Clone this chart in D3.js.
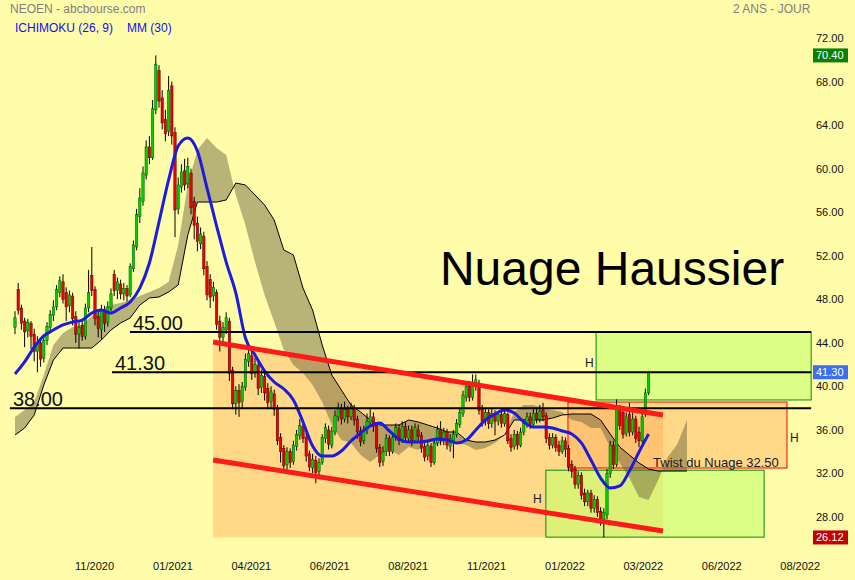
<!DOCTYPE html>
<html><head><meta charset="utf-8">
<script src="https://cdn.jsdelivr.net/npm/d3@7"></script>
<style>html,body{margin:0;padding:0;background:#fffcaa}svg{display:block}</style>
</head><body>
<svg id="c" width="855" height="580"></svg>
<script>
// ---------- DATA ----------
const opens=[45.4,48.9,47.2,46.0,45.1,45.8,44.8,43.2,44.0,42.6,44.2,45.4,46.5,47.3,48.6,49.6,48.6,47.4,48.3,46.4,44.8,45.6,44.6,47.2,50.2,48.9,46.4,45.2,47.0,45.9,47.2,50.3,48.8,49.4,48.5,49.0,48.4,50.8,52.8,55.6,57.0,59.4,62.0,61.0,65.4,69.0,66.5,64.5,63.4,67.6,63.3,56.3,58.3,59.8,58.6,59.6,57.0,55.0,53.1,53.8,51.0,49.8,48.3,48.6,46.0,44.5,45.2,46.0,41.5,38.4,39.6,38.6,39.9,42.3,42.8,41.2,41.9,39.9,40.9,39.8,38.6,39.3,38.0,35.3,34.3,32.8,34.0,33.1,34.5,35.5,36.3,35.3,33.8,32.5,33.2,32.2,33.0,35.2,36.0,34.6,35.8,37.2,38.0,37.0,37.9,37.2,38.0,37.0,35.9,35.0,36.0,36.7,37.2,36.4,34.4,33.1,34.0,35.2,34.0,35.3,36.1,35.0,36.3,35.2,36.0,35.0,36.0,35.5,34.5,33.6,34.5,33.0,34.8,36.0,35.0,35.8,34.5,35.0,35.6,36.5,37.5,39.0,40.0,39.0,40.0,40.3,38.0,36.8,37.6,36.6,37.5,36.8,37.4,36.6,37.4,35.2,34.5,35.6,34.6,35.8,36.6,37.2,36.5,37.5,37.0,37.8,37.3,35.3,34.6,35.3,34.6,34.0,35.0,34.3,32.8,32.4,31.0,31.8,30.2,29.4,30.2,28.8,29.6,28.5,27.6,28.2,32.0,34.6,32.8,38.0,37.6,35.7,37.4,35.8,37.0,35.8,35.0,37.4,39.4];
const highs=[46.9,49.5,47.5,46.3,46.2,46.0,45.3,44.6,44.4,44.8,45.9,47.0,47.9,49.3,50.1,50.3,49.1,48.8,48.6,46.9,45.9,46.0,47.6,50.7,52.8,49.2,47.0,47.5,47.4,47.8,49.0,50.7,50.0,49.8,49.5,49.3,51.3,53.4,56.3,58.2,60.2,62.6,63.0,66.3,70.4,69.5,67.2,65.4,68.5,68.0,63.8,59.2,60.4,60.9,61.0,60.0,57.4,55.6,54.6,54.2,51.5,50.3,49.6,48.9,46.5,45.9,46.8,46.3,41.8,40.0,40.2,40.4,43.0,43.6,43.2,42.6,42.3,41.5,41.3,40.3,40.0,39.7,38.3,35.7,34.6,34.4,34.3,35.0,36.0,37.0,36.6,35.7,34.1,33.8,33.6,33.4,35.6,36.6,36.4,36.3,37.8,38.5,38.4,38.6,38.2,38.5,38.3,37.3,36.3,36.4,37.5,37.9,37.6,36.7,34.7,34.5,35.6,35.5,35.8,36.6,36.5,36.8,36.7,36.4,36.4,36.6,36.5,35.8,34.9,35.0,34.8,35.1,36.4,36.8,36.2,36.1,35.6,36.0,37.0,38.0,39.6,40.4,40.5,41.1,41.1,40.6,38.3,38.0,37.9,38.0,37.8,37.7,37.8,37.9,37.6,35.6,36.0,35.9,36.2,37.0,37.6,37.6,37.9,38.0,38.3,38.5,37.6,35.7,35.7,35.6,35.0,35.4,35.3,34.6,33.2,32.7,32.2,32.1,30.6,30.5,30.5,30.0,29.9,28.9,28.8,32.4,35.0,35.0,38.8,38.3,38.0,37.6,38.5,37.6,37.3,36.3,37.6,39.8,41.4];
const lows=[44.8,46.6,45.2,43.6,44.5,43.4,42.3,41.3,41.8,42.2,43.8,45.0,46.0,47.0,48.2,47.6,46.0,46.8,45.6,44.0,43.5,44.2,44.3,46.8,48.3,45.6,44.5,44.3,45.0,45.5,46.9,48.3,48.0,48.0,47.9,47.8,48.2,50.5,52.5,55.0,56.6,59.0,60.4,60.8,65.0,65.6,63.6,62.5,63.0,62.2,53.7,55.8,57.8,58.0,58.2,55.8,53.5,52.4,52.6,50.2,47.9,47.2,47.8,45.2,43.2,44.0,44.8,40.5,37.9,37.4,37.2,38.0,39.6,41.8,40.6,40.8,39.2,39.4,38.7,37.9,38.0,37.3,34.6,33.0,32.1,32.3,32.5,32.8,34.1,35.1,34.8,33.1,32.2,32.0,31.1,31.8,32.8,34.8,34.2,34.3,35.5,36.8,36.5,36.7,36.6,36.9,36.4,35.2,34.5,34.7,35.6,36.3,35.8,33.9,32.6,32.7,33.6,33.6,33.8,35.0,34.6,34.8,34.9,34.8,34.5,34.8,35.0,33.9,33.1,33.2,32.6,32.8,34.5,34.6,34.6,34.2,34.0,33.4,35.3,36.2,37.2,38.6,38.6,38.7,39.6,37.4,36.3,36.4,36.1,36.2,35.5,36.4,36.2,36.3,34.7,34.0,34.2,34.2,34.4,35.5,36.2,36.1,36.2,36.6,36.7,36.8,34.8,34.2,34.3,34.0,33.6,33.8,33.5,32.2,31.6,30.6,30.6,29.6,29.0,29.0,28.4,28.4,28.0,27.2,26.12,27.8,31.6,32.4,32.6,36.0,35.2,35.4,35.4,35.5,34.8,34.4,34.8,37.2,39.2];
const closes=[46.3,47.0,45.8,45.0,45.9,44.6,43.2,44.0,42.5,44.2,45.5,46.6,47.3,48.9,49.7,48.0,47.3,48.4,46.2,44.8,45.4,44.6,47.2,48.6,48.8,46.2,45.3,47.0,45.8,47.3,48.5,48.8,49.6,48.5,49.0,48.3,51.0,53.0,55.8,57.3,59.6,62.0,61.0,65.5,69.6,66.2,64.2,63.2,67.2,63.0,56.2,58.5,59.7,58.5,60.2,56.4,54.8,53.3,54.0,50.8,48.4,48.2,49.1,45.7,44.5,45.4,46.3,41.2,38.4,39.6,38.5,40.0,42.5,43.0,41.2,42.0,39.8,41.0,39.4,38.5,39.5,37.9,35.0,34.0,32.7,34.0,33.0,34.6,35.6,36.4,35.2,33.6,32.6,33.3,32.1,33.0,35.3,36.2,34.7,35.9,37.3,38.0,37.0,37.9,37.2,38.0,36.9,35.8,34.9,36.0,36.8,37.2,36.3,34.3,33.0,34.0,35.2,34.0,35.3,36.2,35.0,36.3,35.3,36.0,35.0,36.2,35.4,34.3,33.5,34.6,33.0,34.8,36.0,35.0,35.8,34.6,35.2,35.6,36.6,37.6,39.2,40.0,39.0,40.3,40.6,37.8,36.8,37.6,36.6,37.5,36.8,37.4,36.6,37.5,35.0,34.4,35.6,34.6,35.8,36.6,37.2,36.5,37.5,37.0,37.7,37.2,35.2,34.6,35.3,34.4,34.0,35.0,34.2,32.6,32.2,31.0,31.8,30.0,29.4,30.2,28.8,29.6,28.4,27.8,28.4,32.0,34.6,32.8,38.2,36.4,35.6,37.2,35.8,37.0,35.2,35.0,37.2,39.4,41.3];

// Moving average MM(30), one value every 3 candles
const maStep=3;
const ma30=[41.13,42.24,43.61,44.63,45.18,45.64,45.91,46.09,46.74,47.01,46.74,47.20,47.75,49.03,51.33,55.10,58.96,62.08,62.81,61.62,58.22,54.73,51.42,48.58,44.44,42.88,41.41,40.40,39.76,38.75,36.73,34.52,33.60,33.60,34.06,34.98,35.71,36.36,36.64,35.90,35.17,34.89,34.89,34.98,35.17,35.07,34.80,35.07,35.99,36.91,37.46,37.83,37.55,36.73,36.27,36.27,36.17,35.90,35.63,34.80,33.23,31.58,30.66,30.85,32.22,33.97,35.62];

// Ichimoku cloud (senkou spans), one value every 3 candles, projected ahead
const cloudStep=3;
const spanA=[37.18,37.83,38.56,41.04,43.80,44.90,45.45,45.64,46.46,47.01,47.47,47.66,47.93,48.30,48.67,49.03,49.59,52.98,58.50,61.71,62.81,61.90,61.25,57.58,54.82,51.42,48.39,45.91,43.34,41.96,41.23,40.12,38.56,36.45,35.07,34.80,33.69,33.05,33.69,34.15,33.69,34.43,34.15,35.07,34.61,35.07,34.80,34.61,34.15,34.34,34.80,35.53,37.64,38.29,38.29,38.01,37.83,37.64,36.91,36.73,36.17,36.17,34.43,32.96,31.58,29.84,29.56,31.40,33.51,34.70,36.91];
const spanB=[35.53,36.17,37.37,40.12,42.42,43.52,43.52,43.52,43.52,44.26,45.18,45.82,46.28,47.47,48.12,48.21,48.67,49.31,53.90,56.93,56.93,56.93,57.12,58.68,58.50,57.58,56.66,55.28,52.53,52.07,49.03,47.01,43.80,41.04,39.66,38.29,37.64,36.91,36.45,36.45,36.45,36.91,36.73,36.45,36.17,35.81,35.81,35.07,34.89,34.89,35.07,35.53,36.91,36.91,36.91,36.91,37.09,37.37,37.46,37.46,37.46,36.91,35.62,34.43,33.69,32.96,32.41,32.22,32.22,32.22,32.22];

// Axis ticks
const yTicks=[72,68,64,60,56,52,48,44,40,36,32,28];
const xTickIdx=[24.7,49.2,73.7,98.2,122.7,147.2,171.7,196.2,220.7,245.2];
const xTickLabels=["11/2020","01/2021","04/2021","06/2021","08/2021","11/2021","01/2022","03/2022","06/2022","08/2022"];

// Price badges on the right axis
const badges=[{v:70.40,color:"#0a800a"},{v:41.30,color:"#3d6ef2"},{v:26.12,color:"#c20000"}];

// Annotations (data coordinates: candle index, price)
const levels=[{v:45.00,from:35.9,label:"45.00"},{v:41.30,from:30.3,label:"41.30"},{v:38.00,from:-1.6,label:"38.00"}];
const levelEnd=248.8;
const channelTop=[[61.9,44.07],[202.5,37.37]];
const channelBot=[[61.9,33.23],[202.5,26.71]];
const channelFloor=26.15;
const boxes=[
 {x0:181.6,x1:248.8,v0:45.0,v1:38.75,kind:"green"},
 {x0:165.9,x1:234.1,v0:32.3,v1:26.15,kind:"green"},
 {x0:172.8,x1:241.25,v0:38.56,v1:32.5,kind:"red"}
];
const notes=[
 {i:178.1,v:41.78,t:"H",size:12},
 {i:242.2,v:34.89,t:"H",size:12},
 {i:161.9,v:29.28,t:"H",size:12},
 {i:199.4,v:32.55,t:"Twist du Nuage 32.50",size:13}
];

// ---------- DRAW ----------
const FONT='"Liberation Sans", Arial, Helvetica, sans-serif';
const svg=d3.select("#c");
const x=d3.scaleLinear().domain([0,opens.length-1]).range([15,648.6]);
const y=d3.scaleLinear().domain([28,72]).range([517,38]);

svg.append("rect").attr("width",855).attr("height",580).attr("fill","#fffcaa");

// channel fill
const chPoly=[channelTop[0],channelTop[1],[channelTop[1][0],channelFloor],[channelTop[0][0],channelFloor]];
svg.append("path").attr("d",d3.line().x(d=>x(d[0])).y(d=>y(d[1]))(chPoly)+"Z")
  .attr("fill","#ffa050").attr("fill-opacity",0.38);

// boxes
boxes.forEach(b=>{
  svg.append("rect")
   .attr("x",x(b.x0)).attr("y",y(b.v0))
   .attr("width",x(b.x1)-x(b.x0)).attr("height",y(b.v1)-y(b.v0))
   .attr("fill",b.kind==="green"?"#c8ff70":"#ffa050")
   .attr("fill-opacity",b.kind==="green"?0.62:0.38)
   .attr("stroke",b.kind==="green"?"#0a8a0a":"#ff0000").attr("stroke-width",1);
});

// cloud
const cx=(d,i)=>x(i*cloudStep);
svg.append("path").datum(spanA.map((a,i)=>[a,spanB[i]]))
  .attr("d",d3.area().x(cx).y0(d=>y(d[0])).y1(d=>y(d[1])))
  .attr("fill","rgb(100,94,56)").attr("fill-opacity",0.46);
svg.append("path").datum(spanB)
  .attr("d",d3.line().x(cx).y(d=>y(d)))
  .attr("fill","none").attr("stroke","#000").attr("stroke-width",1);

// candles
const idx=d3.range(opens.length);
const cg=svg.append("g");
cg.selectAll("line").data(idx).join("line")
  .attr("x1",i=>x(i)).attr("x2",i=>x(i))
  .attr("y1",i=>y(highs[i])).attr("y2",i=>y(lows[i]))
  .attr("stroke","#000").attr("stroke-width",1);
const bw=2.4;
cg.selectAll("rect").data(idx).join("rect")
  .attr("x",i=>x(i)-bw/2).attr("width",bw)
  .attr("y",i=>y(Math.max(opens[i],closes[i])))
  .attr("height",i=>Math.max(1,Math.abs(y(opens[i])-y(closes[i]))))
  .attr("fill",i=>closes[i]>=opens[i]?"#00d000":"#ee0000")
  .attr("stroke",i=>closes[i]>=opens[i]?"#005500":"#550000").attr("stroke-width",0.5);

// MA
svg.append("path").datum(ma30)
  .attr("d",d3.line().x((d,i)=>x(i*maStep)).y(d=>y(d)).curve(d3.curveMonotoneX))
  .attr("fill","none").attr("stroke","#1c1ce0").attr("stroke-width",3);

// horizontal levels
levels.forEach(l=>{
  svg.append("line").attr("x1",x(l.from)).attr("x2",x(levelEnd))
    .attr("y1",y(l.v)).attr("y2",y(l.v)).attr("stroke","#000").attr("stroke-width",2);
  svg.append("text").attr("x",x(l.from)+3).attr("y",y(l.v)-2)
    .attr("font-family",FONT).attr("font-size",20).attr("fill","#111").text(l.label);
});

// channel red lines
[channelTop,channelBot].forEach(s=>{
  svg.append("line").attr("x1",x(s[0][0])).attr("y1",y(s[0][1]))
    .attr("x2",x(s[1][0])).attr("y2",y(s[1][1]))
    .attr("stroke","#ff1a1a").attr("stroke-width",5);
});

// notes
notes.forEach(n=>{
  svg.append("text").attr("x",x(n.i)).attr("y",y(n.v))
   .attr("font-family",FONT).attr("font-size",n.size).attr("fill","#1a1a1a").text(n.t);
});

// big title
svg.append("text").attr("x",x(132.8)).attr("y",y(49.31))
  .attr("font-family",FONT).attr("font-size",48).attr("fill","#000").text("Nuage Haussier");

// header
svg.append("text").attr("x",10).attr("y",13).attr("font-family",FONT).attr("font-size",12).attr("fill","#808080").text("NEOEN - abcbourse.com");
svg.append("text").attr("x",733).attr("y",13).attr("font-family",FONT).attr("font-size",12).attr("fill","#808080").text("2 ANS - JOUR");
svg.append("text").attr("x",15).attr("y",32).attr("font-family",FONT).attr("font-size",12).attr("fill","#1010f0").text("ICHIMOKU (26, 9)");
svg.append("text").attr("x",127).attr("y",32).attr("font-family",FONT).attr("font-size",12).attr("fill","#1010f0").text("MM (30)");

// y axis
const ya=svg.append("g").attr("transform","translate(813,0)")
  .call(d3.axisRight(y).tickValues(yTicks).tickFormat(d3.format(".2f")).tickSize(0).tickPadding(3));
ya.select(".domain").remove();
ya.selectAll("text").attr("font-family",FONT).attr("font-size",11).attr("fill","#111");

// x axis
const xa=svg.append("g").attr("transform","translate(0,559)")
  .call(d3.axisBottom(x).tickValues(xTickIdx).tickFormat((d,i)=>xTickLabels[i]).tickSize(0).tickPadding(3));
xa.select(".domain").remove();
xa.selectAll("text").attr("font-family",FONT).attr("font-size",11).attr("fill","#111");

// badges
badges.forEach(b=>{
  svg.append("rect").attr("x",813).attr("y",y(b.v)-7).attr("width",35).attr("height",14).attr("fill",b.color);
  svg.append("text").attr("x",816).attr("y",y(b.v)+4).attr("font-family",FONT).attr("font-size",11)
    .attr("fill","#fff").text(b.v.toFixed(2));
});
</script>
</body></html>
